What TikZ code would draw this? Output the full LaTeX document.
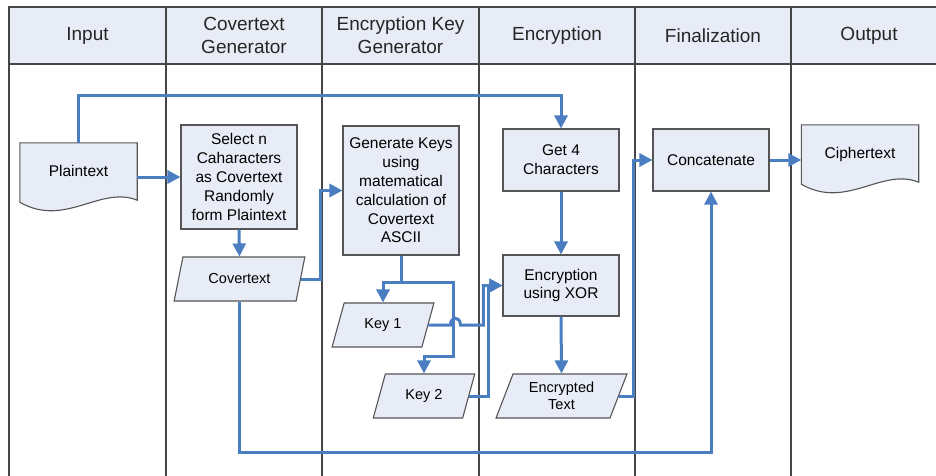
\documentclass[tikz,border=0pt]{standalone}
\usepackage{fontspec}
\setmainfont{Liberation Sans}
\usetikzlibrary{arrows.meta,shapes.geometric,calc,backgrounds}
\definecolor{flow}{RGB}{74,126,193}
\definecolor{boxfill}{RGB}{231,236,246}
\definecolor{headfill}{RGB}{232,236,246}
\definecolor{edgegray}{RGB}{85,85,85}
\definecolor{lanegray}{RGB}{70,70,70}
\begin{document}
\begin{tikzpicture}[x=1pt,y=-1pt,
  procbox/.style={draw=edgegray, line width=1.1pt, fill=boxfill, align=center,
    minimum width=116pt, inner sep=0pt, font=\fontsize{15.5}{18.8}\selectfont},
  iobox/.style={trapezium, trapezium left angle=68, trapezium right angle=112,
    trapezium stretches=true, draw=edgegray, line width=1.1pt, fill=boxfill,
    align=center, minimum height=44pt, inner sep=1pt,
    font=\fontsize{14.5}{16.5}\selectfont},
  docnode/.style={draw=none, minimum width=117pt, minimum height=60pt,
    inner sep=0pt, font=\fontsize{15.5}{18.8}\selectfont},
  docshape/.style={draw=edgegray, line width=1.1pt, fill=boxfill},
  flowline/.style={draw=flow, line width=3pt, -{Triangle[length=13pt,width=13pt]}},
  plainline/.style={draw=flow, line width=3pt},
  lanetext/.style={font=\fontsize{19}{23}\selectfont, align=center, text=black!85},
  laneline/.style={draw=lanegray, line width=1.4pt}
]
\useasboundingbox (0,0) rectangle (936,476);

% swimlane frame
\begin{scope}
  \clip (0,0) rectangle (936,476);
  \fill[headfill] (9,7) rectangle (947,64);
  \draw[laneline] (9,480) -- (9,7) -- (947,7);
  \draw[laneline] (9,64) -- (947,64);
  \foreach \lx in {166,322,479,635,791} {
    \draw[laneline] (\lx,7) -- (\lx,480);
  }
\end{scope}

% lane titles
\node[lanetext] (tin)  at (87.5,35.5) {Input};
\node[lanetext] (tcov) at (244,35.5) {Covertext\\Generator};
\node[lanetext] (tkey) at (400.5,35.5) {Encryption Key\\Generator};
\node[lanetext] (tenc) at (557,35.5) {Encryption};
\node[lanetext] (tfin) at (713,35.5) {Finalization};
\node[lanetext] (tout) at (869,35.5) {Output};

% documents
\node[docnode] (plain)  at (78.5,173) {\raisebox{4pt}{Plaintext}};
\node[docnode] (cipher) at (860,155) {\raisebox{5pt}{Ciphertext}};
\begin{pgfonlayer}{background}
  \draw[docshape] (plain.north west) -- (plain.north east)
    -- ($(plain.south east)+(0,-3)$)
    .. controls ($(plain.south east)+(-37,-18)$) and ($(plain.south west)+(45,25)$)
    .. ($(plain.south west)+(0,-1)$) -- cycle;
  \draw[docshape] (cipher.north west) -- (cipher.north east)
    -- ($(cipher.south east)+(0,-3)$)
    .. controls ($(cipher.south east)+(-37,-18)$) and ($(cipher.south west)+(45,25)$)
    .. ($(cipher.south west)+(0,-1)$) -- cycle;
\end{pgfonlayer}

% process boxes
\node[procbox, minimum height=104pt] (select) at (239,177)
  {Select n\\Caharacters\\as Covertext\\Randomly\\form Plaintext};
\node[procbox, minimum height=129pt] (gen) at (401,190.5)
  {Generate Keys\\using\\matematical\\calculation of\\Covertext\\ASCII};
\node[procbox, minimum height=62pt] (get4) at (561,160) {Get 4\\Characters};
\node[procbox, minimum height=61pt] (xor) at (561,285.5) {Encryption\\using XOR};
\node[procbox, minimum height=62pt] (concat) at (711,160) {Concatenate};

% data (parallelograms)
\node[iobox, minimum width=131pt] (cover) at (239.5,279) {Covertext};
\node[iobox, minimum width=102pt] (key1) at (383,325) {Key 1};
\node[iobox, minimum width=102pt] (key2) at (424,396) {Key 2};
\node[iobox, minimum width=131pt] (enc) at (561.5,396) {Encrypted\\Text};

% connectors
\draw[flowline] (plain.north) -- ++(0,-47) -| (get4.north);
\draw[flowline] (plain.east |- select.west) -- (select.west);
\draw[flowline] (select.south) -- (cover.north);
\draw[flowline] (cover.east) -- ++(19,0) |- (gen.west);
\draw[flowline] (cover.south) -- ++(0,151) -| (concat.south);
\coordinate (split) at ($(gen.south)+(0,27)$);
\draw[plainline] (gen.south) -- (split);
\draw[flowline] (split) -| (key1.north);
\draw[flowline] (split) -- ++(52,0) -- ++(0,74) -| (key2.north);
\draw[flowline] (key1.east) -- ($(key1.east)+(22,0)$)
  .. controls ($(key1.east)+(22,-9)$) and ($(key1.east)+(32,-9)$)
  .. ($(key1.east)+(32,0)$) -- ($(key1.east)+(55,0)$) |- (xor.west);
\draw[flowline] (key2.east) -- ++(19.5,0) |- (xor.west);
\draw[flowline] (get4.south) -- (xor.north);
\draw[flowline] (xor.south) -- (enc.north);
\draw[flowline] (enc.east) -- ++(14.5,0) |- (concat.west);
\draw[flowline] (concat.east) -- (concat.east -| cipher.west);
\end{tikzpicture}
\end{document}
